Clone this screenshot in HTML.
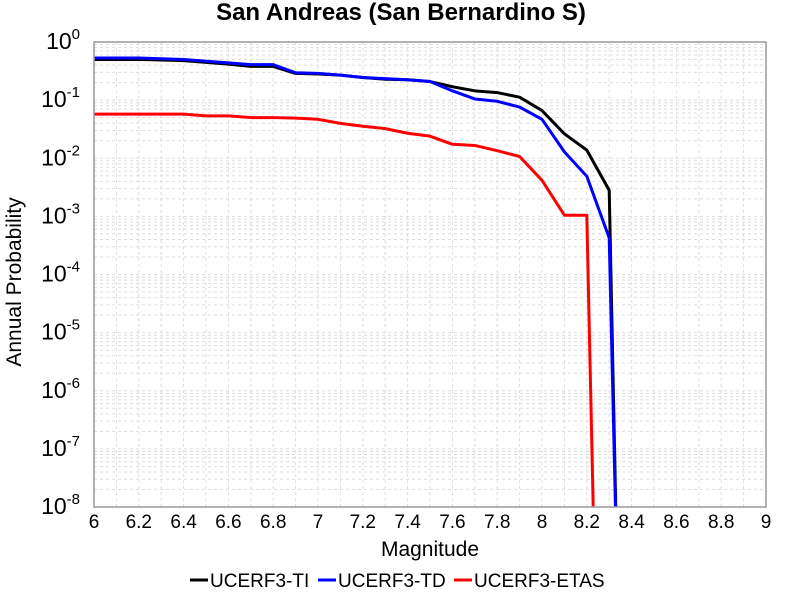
<!DOCTYPE html>
<html><head><meta charset="utf-8"><style>
body{margin:0;background:#fff;font-family:"Liberation Sans",sans-serif}
svg text{font-family:"Liberation Sans",sans-serif}
</style></head><body>
<svg id="chart" width="800" height="600">
<text x="401" y="20" text-anchor="middle" font-size="24" font-weight="bold">San Andreas (San Bernardino S)</text>
<text x="430" y="556" text-anchor="middle" font-size="21">Magnitude</text>
<text transform="translate(21,282) rotate(-90)" text-anchor="middle" font-size="21">Annual Probability</text>
<g id="grid"></g><g id="ticks"></g>
<defs><clipPath id="clip"><rect x="94" y="42" width="672" height="465"/></clipPath></defs>
<g id="series" clip-path="url(#clip)"></g>
<rect x="94" y="42" width="672" height="465" fill="none" stroke="#999" stroke-width="1.5"/>
<g id="legend"></g>
</svg>
<script>
const names=["UCERF3-TI","UCERF3-TD","UCERF3-ETAS"];
const colors=["#000","#00f","#f00"];
const tiMag=[6.0,6.2,6.4,6.6,6.7,6.8,6.9,7.0,7.1,7.2,7.3,7.4,7.5,7.6,7.7,7.8,7.9,8.0,8.1,8.2,8.3,8.34];
const tiLog=[-0.30,-0.30,-0.32,-0.38,-0.42,-0.42,-0.54,-0.55,-0.57,-0.61,-0.64,-0.65,-0.68,-0.77,-0.84,-0.87,-0.95,-1.18,-1.58,-1.86,-2.55,-10];
const tdMag=[6.0,6.2,6.4,6.6,6.7,6.8,6.9,7.0,7.1,7.2,7.3,7.4,7.5,7.6,7.7,7.8,7.9,8.0,8.1,8.2,8.3,8.34];
const tdLog=[-0.275,-0.275,-0.30,-0.36,-0.39,-0.39,-0.53,-0.54,-0.57,-0.61,-0.63,-0.65,-0.68,-0.84,-0.98,-1.02,-1.12,-1.33,-1.89,-2.31,-3.37,-10];
const etMag=[6.0,6.4,6.5,6.6,6.7,6.8,6.9,7.0,7.1,7.2,7.3,7.4,7.5,7.6,7.7,7.8,7.9,8.0,8.1,8.2,8.24];
const etLog=[-1.24,-1.24,-1.27,-1.27,-1.30,-1.30,-1.31,-1.33,-1.40,-1.45,-1.49,-1.57,-1.62,-1.76,-1.78,-1.87,-1.97,-2.38,-2.98,-2.98,-10];
const xTicks=[6,6.2,6.4,6.6,6.8,7,7.2,7.4,7.6,7.8,8,8.2,8.4,8.6,8.8,9];
const yTicks=[0,-1,-2,-3,-4,-5,-6,-7,-8];
const NS="http://www.w3.org/2000/svg";
const L=94,R=766,T=42,B=507;
const sx=m=>L+(m-6)/3*(R-L);
const sy=l=>T+(-l)/8*(B-T);
function mk(t,a,p){const e=document.createElementNS(NS,t);for(const k in a)e.setAttribute(k,a[k]);p.appendChild(e);return e;}
const grid=document.getElementById('grid'),ticks=document.getElementById('ticks');
for(let m=6.1;m<9;m+=0.1){const l=mk('line',{x1:sx(m),x2:sx(m),y1:T,y2:B,stroke:'#ddd','stroke-dasharray':'3,3'},grid);

}
for(let d=0;d<8;d++)for(let k=1;k<10;k++){const v=-d-1+Math.log10(k);const y=sy(v);
const l=mk('line',{x1:L,x2:R,y1:y,y2:y,stroke:'#ddd','stroke-dasharray':'3,3'},grid);

}
xTicks.forEach(t=>{const e=mk('text',{x:sx(t),y:528,'text-anchor':'middle','font-size':'19'},ticks);e.textContent=String(t);

});
yTicks.forEach(t=>{const e=mk('text',{x:80,y:sy(t)+7,'text-anchor':'end','font-size':'23'},ticks);


e.textContent='10';const s=mk('tspan',{dy:'-10','font-size':'15'},e);s.textContent=String(t);});
const ser=document.getElementById('series');
[[tiMag,tiLog],[tdMag,tdLog],[etMag,etLog]].forEach((d,i)=>{
const pts=d[0].map((m,j)=>sx(m)+','+sy(d[1][j])).join(' ');
const p=mk('polyline',{points:pts,fill:'none',stroke:colors[i],'stroke-width':3,'stroke-linejoin':'round'},ser);

});
const lg=document.getElementById('legend');
const lx=[190,318,454];
names.forEach((n,i)=>{const g=mk('g',{},lg);


mk('line',{x1:lx[i],x2:lx[i]+18,y1:580,y2:580,stroke:colors[i],'stroke-width':3},g);
const t=mk('text',{x:lx[i]+20,y:587,'font-size':'19'},g);t.textContent=n;});
</script>
</body></html>
